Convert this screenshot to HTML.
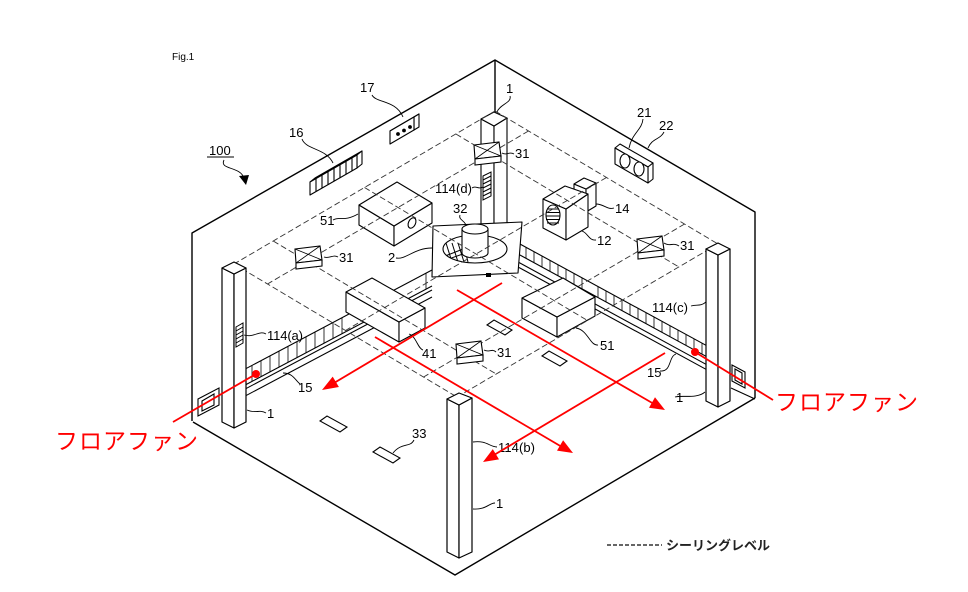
<!DOCTYPE html>
<html><head><meta charset="utf-8">
<style>
html,body{margin:0;padding:0;background:#fff;}
svg{display:block;}
text{font-family:"Liberation Sans","Noto Sans CJK JP",sans-serif;}
</style></head><body>
<svg width="968" height="592" viewBox="0 0 968 592" xmlns="http://www.w3.org/2000/svg">
<rect width="968" height="592" fill="#fff"/>

<!-- room outline -->
<g fill="none" stroke="#000" stroke-width="1.4" stroke-linejoin="round">
 <polyline points="192,421 192,233 495,60 755,212 755,398"/>
 <polyline points="193,422 455,575 755,398"/>
 <line x1="495" y1="60" x2="495" y2="113"/>
</g>

<!-- wall items -->
<g stroke="#000" stroke-width="1.1" fill="#fff" stroke-linejoin="round">
 <!-- 16 vent -->
 <polygon points="310,182 315,178 362,151 357,155"/>
 <polygon points="357,155 362,151 362,164 357,168"/>
 <polygon points="310,182 357,155 357,168 310,195"/>
 <g fill="none">
  <line x1="316" y1="178.6" x2="316" y2="191.6"/>
  <line x1="322" y1="175.1" x2="322" y2="188.1"/>
  <line x1="328" y1="171.7" x2="328" y2="184.7"/>
  <line x1="334" y1="168.2" x2="334" y2="181.2"/>
  <line x1="340" y1="164.8" x2="340" y2="177.8"/>
  <line x1="346" y1="161.3" x2="346" y2="174.3"/>
  <line x1="352" y1="157.9" x2="352" y2="170.9"/>
 </g>
 <!-- 17 panel -->
 <polygon points="390,131 395,128 419,114 414,117"/>
 <polygon points="414,117 419,114 419,127 414,130"/>
 <polygon points="390,131 414,117 414,130 390,144"/>
 <!-- 21/22 panel -->
 <polygon points="615,148 620,144 653,163 648,167"/>
 <polygon points="648,167 653,163 653,179 648,183"/>
 <polygon points="615,148 648,167 648,183 615,164"/>
 <ellipse cx="625" cy="161" rx="5" ry="7"/>
 <ellipse cx="639" cy="169" rx="5" ry="7"/>
</g>
<g fill="#000">
 <circle cx="398" cy="134" r="1.9"/>
 <circle cx="404" cy="130.5" r="1.9"/>
 <circle cx="410" cy="127" r="1.9"/>
</g>

<!-- floor rects -->
<g stroke="#000" stroke-width="1.1" fill="#fff">
 <polygon points="320,421 327,416 347,427 340,432"/>
 <polygon points="373,452 380,447 400,458 393,463"/>
 <polygon points="487,325 494,320 512,330 505,335"/>
 <polygon points="542,356 549,351 567,361 560,366"/>
</g>

<!-- left duct -->
<g stroke="#000" stroke-width="1.1" fill="none">
 <line x1="222" y1="381.3" x2="432" y2="270"/>
 <line x1="222" y1="397.3" x2="432" y2="286"/>
 <line x1="222" y1="401.3" x2="432" y2="290"/>
 <line x1="222" y1="408.3" x2="432" y2="297"/>
 <g stroke-width="0.8">
  <line x1="252" y1="365.4" x2="252" y2="381.4"/>
  <line x1="261" y1="360.6" x2="261" y2="376.6"/>
  <line x1="270" y1="355.8" x2="270" y2="371.8"/>
  <line x1="279" y1="351.0" x2="279" y2="367.0"/>
  <line x1="288" y1="346.3" x2="288" y2="362.3"/>
  <line x1="297" y1="341.5" x2="297" y2="357.5"/>
  <line x1="306" y1="336.7" x2="306" y2="352.7"/>
  <line x1="315" y1="332.0" x2="315" y2="348.0"/>
  <line x1="324" y1="327.2" x2="324" y2="343.2"/>
  <line x1="333" y1="322.4" x2="333" y2="338.4"/>
  <line x1="342" y1="317.7" x2="342" y2="333.7"/>
  <line x1="426" y1="273.1" x2="426" y2="289.1"/>
 </g>
 <polygon points="198,399 219,388 219,405 198,416" fill="#fff"/>
 <polygon points="202,401 214,394 214,405 202,411" fill="#fff"/>
</g>

<!-- right duct -->
<g stroke="#000" stroke-width="1.1" fill="none">
 <line x1="519" y1="243.5" x2="706" y2="345.3"/>
 <line x1="519" y1="254.5" x2="706" y2="356.3"/>
 <line x1="519" y1="262.5" x2="706" y2="364.3"/>
 <line x1="519" y1="267.5" x2="706" y2="369.3"/>
 <g stroke-width="0.8">
  <line x1="526" y1="247.4" x2="526" y2="258.4"/>
  <line x1="534" y1="251.7" x2="534" y2="262.7"/>
  <line x1="542" y1="256.1" x2="542" y2="267.1"/>
  <line x1="550" y1="260.4" x2="550" y2="271.4"/>
  <line x1="558" y1="264.8" x2="558" y2="275.8"/>
  <line x1="566" y1="269.1" x2="566" y2="280.1"/>
  <line x1="574" y1="273.5" x2="574" y2="284.5"/>
  <line x1="582" y1="277.8" x2="582" y2="288.8"/>
  <line x1="598" y1="286.5" x2="598" y2="297.5"/>
  <line x1="606" y1="290.9" x2="606" y2="301.9"/>
  <line x1="614" y1="295.2" x2="614" y2="306.2"/>
  <line x1="622" y1="299.6" x2="622" y2="310.6"/>
  <line x1="630" y1="303.9" x2="630" y2="314.9"/>
  <line x1="638" y1="308.3" x2="638" y2="319.3"/>
  <line x1="646" y1="312.6" x2="646" y2="323.6"/>
  <line x1="654" y1="317.0" x2="654" y2="328.0"/>
  <line x1="662" y1="321.3" x2="662" y2="332.3"/>
  <line x1="670" y1="325.7" x2="670" y2="336.7"/>
  <line x1="678" y1="330.0" x2="678" y2="341.0"/>
  <line x1="686" y1="334.4" x2="686" y2="345.4"/>
  <line x1="694" y1="338.8" x2="694" y2="349.8"/>
  <line x1="702" y1="343.1" x2="702" y2="354.1"/>
 </g>
 <polygon points="732,365 745,372 745,388 732,381" fill="#fff"/>
 <polygon points="735,369 742,373 742,384 735,380" fill="#fff"/>
 <line x1="731" y1="388" x2="755" y2="399"/>
</g>

<!-- back column -->
<g stroke="#000" stroke-width="1.1" fill="#fff" stroke-linejoin="round">
 <polygon points="481,119 494,126 494,240 481,233"/>
 <polygon points="494,126 507,118 507,232 494,240"/>
 <polygon points="481,119 494,112 507,118 494,126"/>
</g>

<!-- box 14 & 12 -->
<g stroke="#000" stroke-width="1.1" fill="#fff" stroke-linejoin="round">
 <polygon points="574,184 586,189 586,212 574,207"/>
 <polygon points="586,189 596,183 596,206 586,212"/>
 <polygon points="574,184 584,178 596,183 586,189"/>
 <polygon points="543,199 566,209 566,240 543,228"/>
 <polygon points="566,209 588,194 588,227 566,240"/>
 <polygon points="543,199 565,186 588,194 566,209"/>
 <ellipse cx="553" cy="215" rx="7" ry="10"/>
 <g fill="none" stroke-width="1">
  <line x1="547" y1="209" x2="559" y2="209"/>
  <line x1="546" y1="212.5" x2="560" y2="212.5"/>
  <line x1="546" y1="216" x2="560" y2="216"/>
  <line x1="546" y1="219.5" x2="560" y2="219.5"/>
  <line x1="547" y1="223" x2="559" y2="223"/>
 </g>
</g>

<!-- box 51 upper -->
<g stroke="#000" stroke-width="1.1" fill="#fff" stroke-linejoin="round">
 <polygon points="359,205 394,226 394,246 359,225"/>
 <polygon points="394,226 432,203 432,223 394,246"/>
 <polygon points="397,182 432,203 394,226 359,205"/>
 <ellipse cx="412" cy="223" rx="3.5" ry="5.5" transform="rotate(25 412 223)"/>
</g>

<!-- fan plate 2 -->
<defs>
 <clipPath id="ec"><ellipse cx="475" cy="249" rx="32" ry="14"/></clipPath>
</defs>
<g stroke="#000" stroke-width="1.1" fill="#fff" stroke-linejoin="round">
 <polygon points="433,226 522,222 518,273 432,277"/>
 <ellipse cx="475" cy="249" rx="32" ry="14"/>
 <g clip-path="url(#ec)" fill="none" stroke-width="1">
  <line x1="440" y1="258" x2="476" y2="244"/>
  <line x1="440" y1="262" x2="480" y2="248"/>
  <line x1="446" y1="243" x2="452" y2="262"/>
  <line x1="452" y1="243" x2="458" y2="262"/>
  <line x1="458" y1="243" x2="464" y2="262"/>
  <line x1="464" y1="246" x2="468" y2="262"/>
 </g>
 <path d="M462,229 L462,253 A13,5 0 0 0 488,253 L488,229 Z"/>
 <ellipse cx="475" cy="229" rx="13" ry="5"/>
</g>
<rect x="486" y="273" width="5" height="4" fill="#000"/>

<!-- box 41 -->
<g stroke="#000" stroke-width="1.1" fill="#fff" stroke-linejoin="round">
 <polygon points="346,292 399,322 399,342 346,312"/>
 <polygon points="399,322 425,308 425,328 399,342"/>
 <polygon points="346,292 372,278 425,308 399,322"/>
</g>
<!-- box 51 right -->
<g stroke="#000" stroke-width="1.1" fill="#fff" stroke-linejoin="round">
 <polygon points="522,298 557,317 557,337 522,318"/>
 <polygon points="557,317 595,297 595,316 557,337"/>
 <polygon points="522,298 563,278 595,297 557,317"/>
</g>

<!-- ceiling-level dashed grid -->
<g stroke="#333" stroke-width="0.9" stroke-dasharray="6 3" fill="none">
 <line x1="495" y1="111" x2="718" y2="244"/>
 <line x1="455.9" y1="134" x2="678.9" y2="267"/>
 <line x1="364.5" y1="187.5" x2="587.5" y2="320.5"/>
 <line x1="273.2" y1="241" x2="496.2" y2="374"/>
 <line x1="234" y1="264" x2="457" y2="397"/>
 <line x1="495" y1="111" x2="234" y2="264"/>
 <line x1="528.5" y1="131" x2="267.5" y2="284"/>
 <line x1="606.5" y1="177.5" x2="345.5" y2="330.5"/>
 <line x1="684.6" y1="224" x2="423.6" y2="377"/>
 <line x1="718" y1="244" x2="457" y2="397"/>
</g>

<!-- columns -->
<g stroke="#000" stroke-width="1.2" fill="#fff" stroke-linejoin="round">
 <polygon points="222,268 234,274 234,428 222,422"/>
 <polygon points="234,274 246,268 246,422 234,428"/>
 <polygon points="222,268 234,262 246,268 234,274"/>
 <polygon points="706,249 718,255 718,407 706,401"/>
 <polygon points="718,255 730,249 730,401 718,407"/>
 <polygon points="706,249 718,243 730,249 718,255"/>
 <polygon points="447,399 459,405 459,558 447,552"/>
 <polygon points="459,405 472,398 472,552 459,558"/>
 <polygon points="447,399 459,393 472,398 459,405"/>
</g>

<!-- 31 boxes -->
<defs>
 <g id="b31">
  <polygon points="0,3 25,0 27,14 1,17" fill="#fff" stroke="#000" stroke-width="1.1"/>
  <line x1="0" y1="3" x2="27" y2="14" stroke="#000" stroke-width="0.8"/>
  <line x1="25" y1="0" x2="1" y2="17" stroke="#000" stroke-width="0.8"/>
  <polygon points="1,17 27,14 27,20 1,23" fill="#fff" stroke="#000" stroke-width="1.1"/>
 </g>
</defs>
<use href="#b31" transform="translate(295,246)"/>
<use href="#b31" transform="translate(637,236)"/>
<use href="#b31" transform="translate(456,341)"/>
<use href="#b31" transform="translate(474,142)"/>

<!-- 114 hatches -->
<g stroke="#000" stroke-width="1" fill="#fff">
 <polygon points="236,327 243,323 243,343 236,347"/>
 <line x1="236" y1="331" x2="243" y2="327"/>
 <line x1="236" y1="335" x2="243" y2="331"/>
 <line x1="236" y1="339" x2="243" y2="335"/>
 <line x1="236" y1="343" x2="243" y2="339"/>
 <polygon points="483,176 491,172 491,196 483,200"/>
 <line x1="483" y1="180" x2="491" y2="176"/>
 <line x1="483" y1="184" x2="491" y2="180"/>
 <line x1="483" y1="188" x2="491" y2="184"/>
 <line x1="483" y1="192" x2="491" y2="188"/>
 <line x1="483" y1="196" x2="491" y2="192"/>
</g>

<!-- leaders -->
<g stroke="#000" stroke-width="0.9" fill="none">
 <path d="M372,95 C376,103 396,100 403,117"/>
 <path d="M302,139 C306,150 326,148 333,163"/>
 <path d="M224,160 C219,170 240,166 244,178"/>
 <path d="M333,220 C340,216 344,222 358,214"/>
 <path d="M460,215 C458,220 466,221 466,226"/>
 <path d="M472,188 C476,185 478,190 483,187"/>
 <path d="M510,96 C512,103 500,104 497,112"/>
 <path d="M514,154 C509,151 507,156 502,153"/>
 <path d="M643,119 C642,130 632,133 629,148"/>
 <path d="M664,132 C660,140 652,138 648,148"/>
 <path d="M614,208 C607,210 604,204 596,204"/>
 <path d="M596,240 C589,241 588,233 582,231"/>
 <path d="M679,246 C673,242 670,247 664,243"/>
 <path d="M338,257 C333,254 330,259 324,257"/>
 <path d="M396,258 C406,260 414,248 432,248"/>
 <path d="M266,334 C259,330 254,338 244,335"/>
 <path d="M423,350 C418,349 416,336 409,334"/>
 <path d="M300,384 C295,380 293,373 283,373"/>
 <path d="M266,413 C259,409 256,414 247,410"/>
 <path d="M496,352 C492,348 489,353 484,350"/>
 <path d="M598,345 C590,346 588,330 576,328"/>
 <path d="M660,371 C672,372 668,357 676,354"/>
 <path d="M691,306 C697,304 700,307 706,302"/>
 <path d="M675,397 C682,395 697,399 705,392"/>
 <path d="M414,440 C410,448 402,442 393,453"/>
 <path d="M497,447 C490,447 486,440 473,442"/>
 <path d="M495,503 C489,503 486,510 473,509"/>
</g>
<polygon points="239,176 249,175 246,185" fill="#000"/>
<line x1="207" y1="157" x2="234" y2="157" stroke="#000" stroke-width="0.9"/>

<!-- labels -->
<g fill="#000" font-size="13">
 <text x="172" y="60" font-size="10">Fig.1</text>
 <text x="360" y="92">17</text>
 <text x="289" y="137">16</text>
 <text x="209" y="155">100</text>
 <text x="320" y="225">51</text>
 <text x="453" y="213">32</text>
 <text x="435" y="193" textLength="37">114(d)</text>
 <text x="506" y="93">1</text>
 <text x="515" y="158">31</text>
 <text x="637" y="117">21</text>
 <text x="659" y="130">22</text>
 <text x="615" y="213">14</text>
 <text x="597" y="245">12</text>
 <text x="680" y="250">31</text>
 <text x="339" y="262">31</text>
 <text x="388" y="262">2</text>
 <text x="267" y="340" textLength="36">114(a)</text>
 <text x="422" y="358">41</text>
 <text x="298" y="392">15</text>
 <text x="267" y="418">1</text>
 <text x="497" y="357">31</text>
 <text x="600" y="350">51</text>
 <text x="647" y="377">15</text>
 <text x="652" y="312" textLength="36">114(c)</text>
 <text x="676" y="402">1</text>
 <text x="412" y="438">33</text>
 <text x="498" y="452" textLength="37">114(b)</text>
 <text x="496" y="508">1</text>
</g>

<!-- legend -->
<line x1="607" y1="545" x2="662" y2="545" stroke="#333" stroke-width="1.4" stroke-dasharray="4 2"/>
<text x="666" y="550" font-size="13" font-weight="bold" fill="#222" font-family="'Noto Sans CJK JP',sans-serif">シーリングレベル</text>

<!-- red flow arrows -->
<g stroke="#ff0000" stroke-width="1.8" fill="none">
 <line x1="502" y1="283" x2="334" y2="383"/>
 <line x1="457" y1="290" x2="654" y2="404"/>
 <line x1="375" y1="337" x2="562" y2="447"/>
 <line x1="665" y1="353" x2="494" y2="455"/>
 <line x1="256" y1="374" x2="173" y2="422"/>
 <line x1="695" y1="352" x2="773" y2="400"/>
</g>
<g fill="#ff0000">
 <polygon points="322,390 338.9,387 332.7,376.6"/>
 <polygon points="665,410 649,407.7 655,397.3"/>
 <polygon points="573,453 557,450.6 563.1,440.2"/>
 <polygon points="483,462 499,459.4 492.8,449.1"/>
 <circle cx="256" cy="374" r="4"/>
 <circle cx="695" cy="352" r="4"/>
</g>
<g fill="#ff0000" font-size="23" letter-spacing="1" font-family="'Noto Sans CJK JP','Liberation Sans',sans-serif">
 <text x="55" y="449">フロアファン</text>
 <text x="775" y="410">フロアファン</text>
</g>
</svg>
</body></html>
